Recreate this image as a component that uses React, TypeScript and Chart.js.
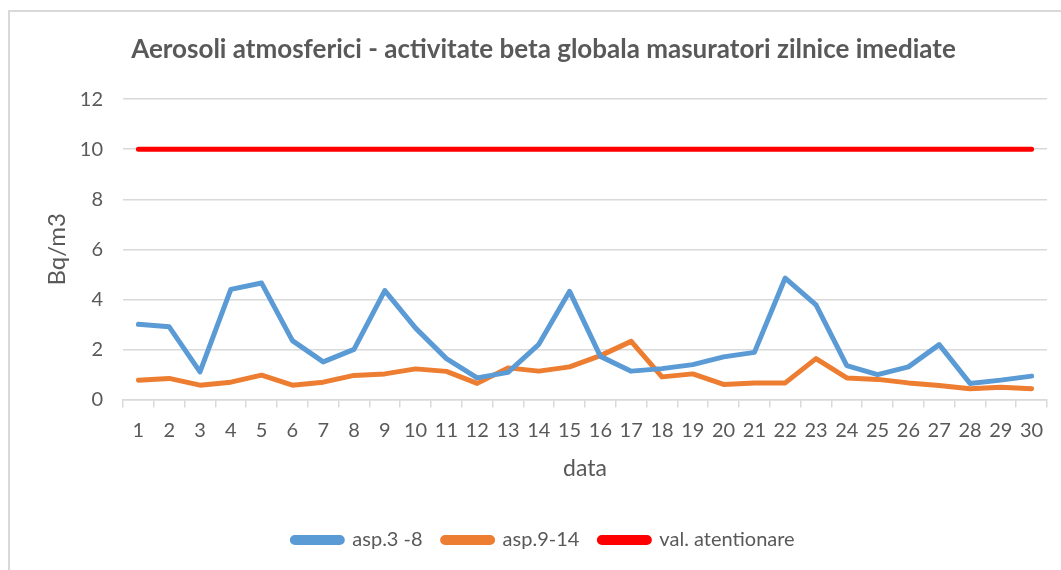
import React, { useEffect, useRef } from "react";
import { Chart, registerables } from "chart.js";

Chart.register(...registerables);

const days = ["1","2","3","4","5","6","7","8","9","10","11","12","13","14","15","16","17","18","19","20","21","22","23","24","25","26","27","28","29","30"];
const asp38 = [3.0, 2.9, 1.1, 4.4, 4.65, 2.35, 1.5, 2.0, 4.35, 2.85, 1.63, 0.86, 1.08, 2.2, 4.32, 1.72, 1.13, 1.23, 1.39, 1.7, 1.88, 4.85, 3.78, 1.35, 0.99, 1.3, 2.19, 0.64, 0.77, 0.93];
const asp914 = [0.77, 0.84, 0.57, 0.69, 0.97, 0.57, 0.69, 0.96, 1.02, 1.22, 1.12, 0.64, 1.26, 1.13, 1.3, 1.75, 2.32, 0.9, 1.02, 0.6, 0.66, 0.66, 1.63, 0.86, 0.8, 0.66, 0.56, 0.43, 0.49, 0.43];
const valAtentionare = [10, 10, 10, 10, 10, 10, 10, 10, 10, 10, 10, 10, 10, 10, 10, 10, 10, 10, 10, 10, 10, 10, 10, 10, 10, 10, 10, 10, 10, 10];
const yTicks = [0, 2, 4, 6, 8, 10, 12];

const FONT = "Lato";
const TXT = "#595959";
const GRID = "#d9d9d9";

export default function App() {
  const ref = useRef<HTMLCanvasElement | null>(null);
  useEffect(() => {
    if (!ref.current) return;
    const chart = new Chart(ref.current, {
      type: "line",
      data: {
        labels: days,
        datasets: [
          { label: "asp.3 -8", data: asp38, borderColor: "#5B9BD5", backgroundColor: "#5B9BD5", borderWidth: 5, pointRadius: 0, tension: 0, borderCapStyle: "round", borderJoinStyle: "round" },
          { label: "asp.9-14", data: asp914, borderColor: "#ED7D31", backgroundColor: "#ED7D31", borderWidth: 5, pointRadius: 0, tension: 0, borderCapStyle: "round", borderJoinStyle: "round" },
          { label: "val. atentionare", data: valAtentionare, borderColor: "#FF0000", backgroundColor: "#FF0000", borderWidth: 5, pointRadius: 0, tension: 0, borderCapStyle: "round" },
        ],
      },
      options: {
        animation: false,
        responsive: false,
        maintainAspectRatio: false,
        layout: { padding: { left: 30, right: 14, top: 8, bottom: 12 } },
        plugins: {
          title: {
            display: true,
            text: "Aerosoli atmosferici - activitate beta globala masuratori zilnice imediate",
            color: TXT,
            font: { family: FONT, size: 26, weight: "bold" },
            padding: { top: 14, bottom: 34 },
          },
          legend: {
            position: "bottom",
            labels: {
              boxWidth: 50,
              boxHeight: 5,
              color: TXT,
              font: { family: FONT, size: 20 },
              padding: 20,
              useBorderRadius: true,
              borderRadius: 2.5,
            },
          },
          tooltip: { enabled: false },
        },
        scales: {
          x: {
            offset: true,
            grid: { display: true, offset: true, drawOnChartArea: false, drawTicks: true, tickLength: 8, color: GRID, lineWidth: 1.5 },
            border: { display: true, color: GRID, width: 1.5 },
            ticks: { color: TXT, font: { family: FONT, size: 20 }, maxRotation: 0, autoSkip: false, padding: 11 },
            title: { display: true, text: "data", color: TXT, font: { family: FONT, size: 23 }, padding: { top: 1, bottom: 28 } },
          },
          y: {
            min: 0,
            max: 12,
            afterBuildTicks: (s: any) => { s.ticks = yTicks.map((v) => ({ value: v })); },
            afterFit: (s: any) => { s.width = 83; },
            grid: { color: GRID, lineWidth: 1.5, drawTicks: false },
            border: { display: false },
            ticks: { color: TXT, font: { family: FONT, size: 20 }, padding: 20 },
            title: { display: true, text: "Bq/m3", color: TXT, font: { family: FONT, size: 24 }, padding: { top: 3, bottom: 0 } },
          },
        },
      },
    });
    return () => chart.destroy();
  }, []);
  return (
    <div style={{ position: "absolute", left: 8, top: 10, width: 1060, height: 570, borderLeft: "2px solid #d9d9d9", borderTop: "2px solid #d9d9d9", background: "#fff" }}>
      <canvas ref={ref} width={1051} height={560} style={{ display: "block" }} />
    </div>
  );
}
